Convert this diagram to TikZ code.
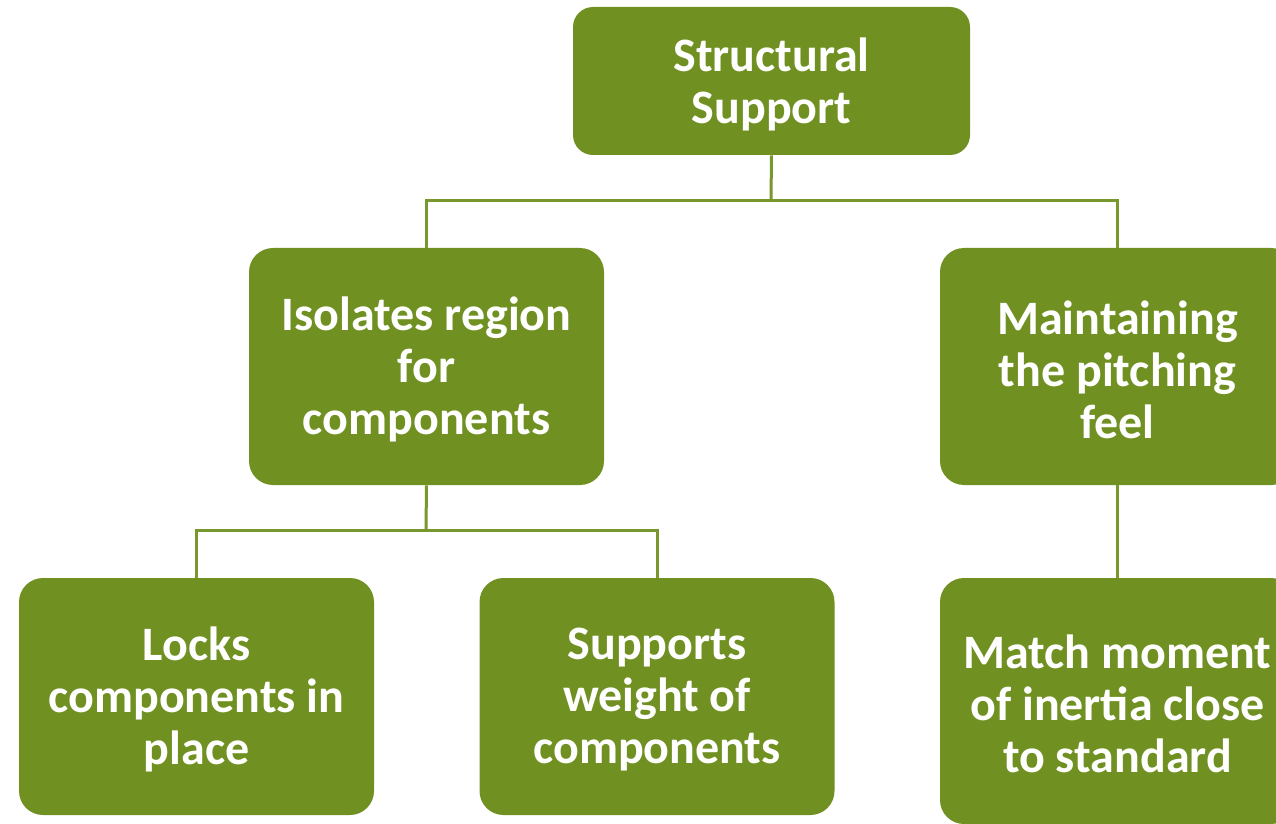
\documentclass[tikz,border=0pt]{standalone}
\usepackage{fontspec}
\setmainfont{Carlito}
\definecolor{boxgreen}{RGB}{112,145,34}
\definecolor{linegreen}{RGB}{120,152,45}
\begin{document}
\begin{tikzpicture}[x=0.5pt,y=-0.5pt,
  box/.style={fill=boxgreen, draw=none, rounded corners=12pt, text=white,
    align=center, inner sep=0pt,
    font=\fontsize{24pt}{26pt}\selectfont\bfseries},
  conn/.style={draw=linegreen, line width=1.5pt}]
\clip (0,0) rectangle (1276,824);
\fill[white] (0,0) rectangle (1276,824);
\node[box, rounded corners=10pt, minimum width=198.5pt, minimum height=74pt] (top) at (771.5,81) {};
\node[box, fill=none] (topt) at (771.5,84) {Structural\\Support};
\node[box, minimum width=177.5pt, minimum height=118.5pt] (iso) at (426.5,366.5) {};
\node[box, fill=none] (isot) at (426.5,369.5) {Isolates region\\for\\components};
\node[box, minimum width=177.5pt, minimum height=118.5pt] (mtn) at (1117.5,366.5) {};
\node[box, fill=none] (mtnt) at (1117.5,369.5) {Maintaining\\the pitching\\feel};
\node[box, minimum width=177.5pt, minimum height=118.5pt] (lck) at (196.5,696.5) {};
\node[box, fill=none] (lckt) at (196.5,699.5) {Locks\\components in\\place};
\node[box, minimum width=177.5pt, minimum height=118.5pt] (sup) at (657,696.5) {};
\node[box, fill=none] (supt) at (657,699.5) {Supports\\weight of\\components};
\node[box, minimum width=177.5pt, minimum height=123pt] (mat) at (1117.5,701) {};
\node[box, fill=none] (matt) at (1117.5,704) {Match moment\\of inertia close\\to standard};
\coordinate (j1) at (771,201);
\coordinate (j2) at (426,530);
\draw[conn] (top.south) -- (j1);
\draw[conn] (iso.north) |- (j1) -| (mtn.north);
\draw[conn] (iso.south) -- (j2);
\draw[conn] (lck.north) |- (j2) -| (sup.north);
\draw[conn] (mtn.south) -- (mat.north);
\end{tikzpicture}
\end{document}
